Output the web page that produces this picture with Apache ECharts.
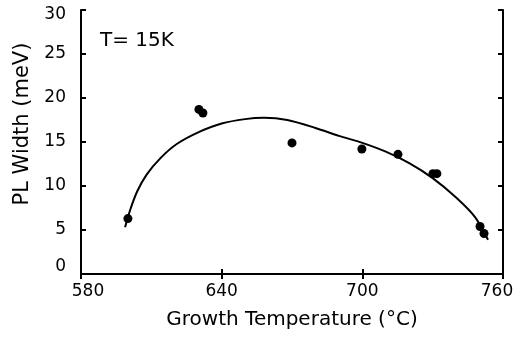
<!DOCTYPE html>
<html>
<head>
<meta charset="utf-8">
<script src="https://cdn.jsdelivr.net/npm/echarts@6/dist/echarts.min.js"></script>
<style>
  html, body { margin: 0; padding: 0; background: #fff; }
  #chart { width: 518px; height: 338px; }
</style>
</head>
<body>
<div id="chart"></div>
<script>
  // measured points: growth temperature (°C) vs PL width (meV)
  const temps = [600, 630.3, 632, 670, 699.8, 715.2, 730.1, 731.8, 750.2, 751.9]
  const widths = [6.3, 18.7, 18.3, 14.9, 14.2, 13.6, 11.4, 11.4, 5.4, 4.6]

  // fitted curve
  const fitTemps = [598.8, 601, 604, 608, 614, 621, 630, 640, 650, 658, 668, 680, 690, 700, 710, 720, 730, 740, 748, 753.6]
  const fitWidths = [5.3, 7.3, 9.4, 11.3, 13.2, 14.8, 16.1, 17.1, 17.6, 17.75, 17.5, 16.6, 15.7, 14.9, 13.9, 12.6, 10.9, 8.7, 6.5, 3.9]

  const xTicks = [580, 640, 700, 760]
  const yTicks = [0, 5, 10, 15, 20, 25, 30]

  const font = 'DejaVu Sans'
  const chart = echarts.init(document.getElementById('chart'))

  const frameAxis = {
    axisLine: { show: true, lineStyle: { color: '#000', width: 2 } },
    axisTick: { show: true, inside: true, length: 5, lineStyle: { color: '#000', width: 2 } },
    axisLabel: { show: false },
    splitLine: { show: false }
  }

  chart.setOption({
    animation: false,
    grid: { left: 81, right: 15, top: 10, bottom: 64 },
    graphic: [{
      type: 'text',
      left: 100,
      top: 31,
      style: { text: 'T= 15K', font: '20px "' + font + '"', fill: '#000' }
    }],
    xAxis: [{
      type: 'value',
      min: xTicks[0],
      max: xTicks[xTicks.length - 1],
      interval: 60,
      name: 'Growth Temperature (°C)',
      nameLocation: 'middle',
      nameGap: 36,
      nameTextStyle: { fontFamily: font, fontSize: 20, color: '#000' },
      axisLine: { lineStyle: { color: '#000', width: 2 } },
      axisTick: { inside: true, length: 5, lineStyle: { color: '#000', width: 2 } },
      axisLabel: {
        fontFamily: font, fontSize: 17, color: '#000', margin: 9,
        formatter: function (v) {
          if (v === 580) return '{l|' + v + '}'
          if (v === 760) return '{r|' + v + '}'
          return v
        },
        rich: {
          l: { fontFamily: font, fontSize: 17, color: '#000', padding: [0, 0, 0, 14] },
          r: { fontFamily: font, fontSize: 17, color: '#000', padding: [0, 12, 0, 0] }
        }
      },
      splitLine: { show: false }
    }, Object.assign({
      type: 'value', position: 'top', min: 580, max: 760, interval: 60
    }, frameAxis)],
    yAxis: [{
      type: 'value',
      min: yTicks[0],
      max: yTicks[yTicks.length - 1],
      interval: 5,
      name: 'PL Width (meV)',
      nameLocation: 'middle',
      nameGap: 46,
      nameTextStyle: { fontFamily: font, fontSize: 21, color: '#000', padding: [0, 0, 0, 36] },
      axisLine: { lineStyle: { color: '#000', width: 2 } },
      axisTick: { inside: true, length: 5, lineStyle: { color: '#000', width: 2 } },
      axisLabel: {
        fontFamily: font, fontSize: 17, color: '#000', margin: 15,
        formatter: function (v) {
          if (v === 0) return '{b|0}'
          if (v === 30) return '{t|30}'
          return v
        },
        rich: {
          b: { fontFamily: font, fontSize: 17, color: '#000', padding: [0, 0, 14, 0] },
          t: { fontFamily: font, fontSize: 17, color: '#000', padding: [10, 0, 0, 0] }
        }
      },
      splitLine: { show: false }
    }, Object.assign({
      type: 'value', position: 'right', min: 0, max: 30, interval: 5
    }, frameAxis)],
    series: [{
      type: 'line',
      smooth: 0.3,
      symbol: 'none',
      lineStyle: { color: '#000', width: 2 },
      data: fitTemps.map((t, i) => [t, fitWidths[i]]),
      z: 2
    }, {
      type: 'scatter',
      symbolSize: 9,
      itemStyle: { color: '#000', opacity: 1 },
      data: temps.map((t, i) => [t, widths[i]]),
      z: 3
    }]
  })
</script>
</body>
</html>
